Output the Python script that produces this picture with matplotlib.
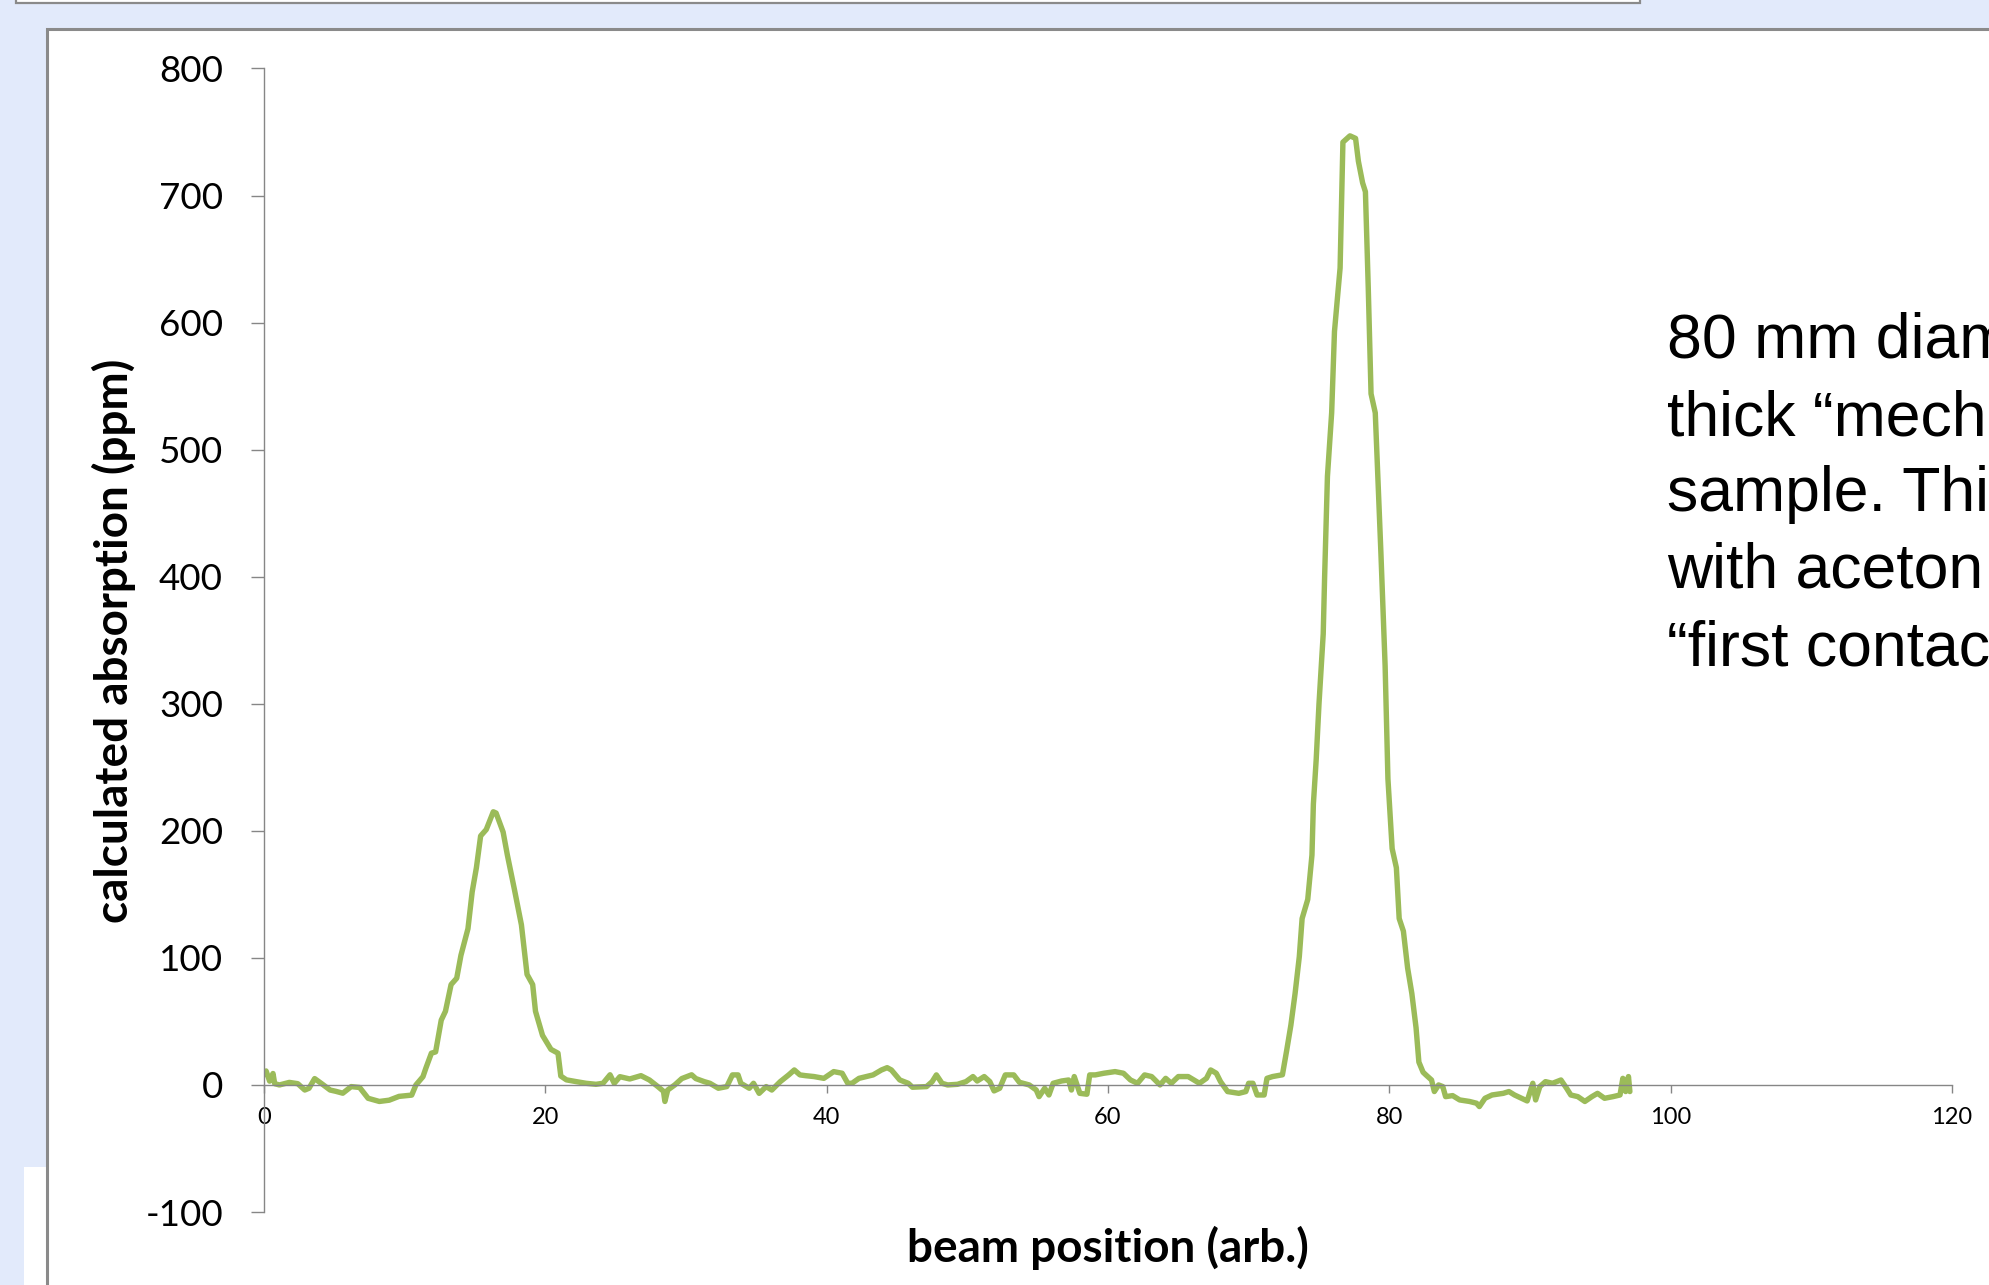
import matplotlib
matplotlib.use("Agg")
import matplotlib.pyplot as plt
from matplotlib.patches import Rectangle

plt.rcParams["axes.unicode_minus"] = False

# Beam scan: position (arb.) and calculated absorption (ppm)
position = [
    0.0, 0.15, 0.4, 0.64, 0.76, 1.1, 1.8, 2.4, 2.9, 3.2, 3.6, 4.1, 4.7, 5.1, 5.6,
    6.2, 6.8, 7.4, 8.2, 8.9, 9.6, 10.5, 10.8, 11.3, 11.5, 11.9, 12.2, 12.6, 12.9,
    13.3, 13.7, 14.0, 14.5, 14.8, 15.1, 15.4, 15.8, 16.3, 16.5, 17.0, 17.3, 17.8,
    18.3, 18.7, 19.1, 19.3, 19.8, 20.4, 20.9, 21.1, 21.5, 22.2, 22.9, 23.6, 24.1,
    24.6, 24.9, 25.3, 26.0, 26.8, 27.4, 28.0, 28.4, 28.5, 28.7, 29.2, 29.7, 30.4,
    30.7, 31.3, 31.7, 32.3, 32.9, 33.3, 33.7, 33.9, 34.5, 34.8, 35.2, 35.7, 36.1,
    36.7, 37.3, 37.7, 38.1, 38.5, 39.1, 39.8, 40.5, 41.1, 41.5, 41.8, 42.3, 43.3,
    43.9, 44.3, 44.6, 45.2, 45.8, 46.1, 47.1, 47.5, 47.8, 48.2, 48.6, 49.3, 49.9,
    50.4, 50.7, 51.2, 51.6, 51.9, 52.3, 52.7, 53.3, 53.7, 54.4, 54.9, 55.1, 55.5,
    55.8, 56.1, 56.7, 57.2, 57.4, 57.6, 58.0, 58.5, 58.7, 59.1, 59.7, 60.5, 61.1,
    61.6, 62.1, 62.6, 63.1, 63.7, 64.1, 64.5, 65.0, 65.7, 66.5, 67.0, 67.3, 67.7,
    68.0, 68.5, 69.3, 69.8, 70.0, 70.3, 70.6, 71.1, 71.3, 71.7, 72.4, 72.7, 73.0,
    73.3, 73.6, 73.8, 74.2, 74.5, 74.6, 74.8, 75.0, 75.3, 75.4, 75.6, 75.9, 76.1,
    76.5, 76.7, 77.2, 77.6, 77.8, 78.1, 78.3, 78.5, 78.7, 79.0, 79.2, 79.4, 79.7,
    79.9, 80.2, 80.5, 80.7, 81.0, 81.3, 81.6, 81.9, 82.1, 82.4, 82.6, 83.0, 83.2,
    83.5, 83.8, 84.0, 84.5, 85.0, 85.7, 86.2, 86.4, 86.8, 87.3, 88.1, 88.5, 88.9,
    89.4, 89.8, 90.2, 90.4, 90.7, 91.1, 91.6, 92.2, 92.6, 92.9, 93.4, 93.9, 94.4,
    94.8, 95.3, 95.9, 96.4, 96.6, 96.8, 97.0, 97.1,
]
absorption = [
    8, 11, 3, 9, 1, 0, 2, 1, -4, -2.6, 5, 1, -4, -5, -6.5,
    -1.3, -2, -10.5, -13, -12, -9, -8, 0, 6.5, 13, 25, 26, 51, 58,
    79, 84, 102, 123, 152, 171, 196, 201, 215, 214, 199, 181, 154,
    126, 87, 79, 58, 39, 28, 25, 7, 4, 2.6, 1.3, 0.5, 1.3,
    8, 1.3, 6.5, 4.7, 7.3, 3.9, -1.3, -5, -13, -4, 0, 5, 8,
    5, 2.6, 1.3, -2.6, -1.3, 7.9, 7.9, 1.3, -2.6, 1.3, -6.6, -1.3, -4,
    2.6, 7.9, 11.8, 7.9, 7.3, 6.6, 5.2, 10.5, 9.2, 1.3, 1.3, 5.2, 7.9,
    11.8, 13.6, 11.8, 3.9, 1.3, -1.8, -1.3, 2.6, 7.9, 1.3, 0, 0.5, 2.6,
    6.6, 3.1, 6.6, 2.6, -4.7, -2.6, 7.9, 7.9, 2.1, 0, -4, -9.2, -2.6,
    -7.9, 1.3, 3.1, 3.9, -4, 6.6, -6.6, -7.3, 7.9, 7.9, 9.2, 10.5, 9.2,
    3.9, 1.3, 7.9, 6.6, 0, 5.2, 1.3, 6.6, 6.6, 1.3, 5.2, 11.8, 9.2,
    2.6, -5.2, -6.6, -5.2, 1.3, 1.3, -7.9, -7.9, 5.2, 6.6, 8, 27, 47,
    72, 101, 131, 146, 181, 221, 256, 300, 355, 400, 479, 529, 593,
    643, 742, 747, 745, 727, 710, 703, 628, 544, 529, 474, 419, 330,
    241, 186, 171, 131, 121, 92, 72, 45, 18, 10, 7.9, 3.9, -5.2,
    0, -1.3, -9.2, -8.4, -11.8, -13, -14.4, -17, -10.5, -7.9, -6.6, -5.2, -7.9,
    -10.5, -12.6, 1.3, -11.8, -1.3, 2.6, 1.3, 3.9, -2.6, -7.9, -9.2, -13, -9.2,
    -6.6, -10.5, -9.2, -7.9, 5.2, -5.2, 6.6, -5.2,
]

y_ticks = [-100, 0, 100, 200, 300, 400, 500, 600, 700, 800]
x_ticks = [0, 20, 40, 60, 80, 100, 120]

note_lines = [
    "80 mm diam",
    "thick \u201cmech",
    "sample. Thi",
    "with aceton",
    "\u201cfirst contac",
]

W, H = 1990, 1285
DPI = 100
BG = "#E2EAFB"
FRAME = "#8A8A8A"
AXIS = "#868686"
GREEN = "#9BBB59"

fig = plt.figure(figsize=(W / DPI, H / DPI), dpi=DPI, facecolor=BG)


def fx(px):
    return px / W


def fy(py):
    return 1 - py / H


# Slide elements: title box at the top, white panel holding the chart
fig.add_artist(Rectangle((fx(16), fy(3)), fx(1640 - 16), fy(-20) - fy(3),
                         transform=fig.transFigure, facecolor="white",
                         edgecolor=FRAME, linewidth=1.6, zorder=0))
fig.add_artist(Rectangle((fx(24), fy(1300)), fx(47 - 24), fy(1167) - fy(1300),
                         transform=fig.transFigure, facecolor="white",
                         edgecolor="none", linewidth=0, zorder=0))
fig.add_artist(Rectangle((fx(47), fy(1300)), fx(2100 - 47), fy(29) - fy(1300),
                         transform=fig.transFigure, facecolor="white",
                         edgecolor=FRAME, linewidth=2.2, zorder=0))

left, right = 264, 1952
top, bottom = 68.5, 1212
ax = fig.add_axes([fx(left), fy(bottom), fx(right - left), fy(top) - fy(bottom)])
ax.set_facecolor("none")

ax.plot(position, absorption, color=GREEN, linewidth=3.9,
        solid_joinstyle="round", solid_capstyle="round")

ax.set_xlim(0, 120)
ax.set_ylim(-100, 800)
ax.set_xticks(x_ticks)
ax.set_yticks(y_ticks)

for side in ("top", "right"):
    ax.spines[side].set_visible(False)
ax.spines["bottom"].set_position(("data", 0))
for side in ("left", "bottom"):
    ax.spines[side].set_color(AXIS)
    ax.spines[side].set_linewidth(1.0)

ax.tick_params(axis="y", direction="out", length=9.5, width=1.0, color=AXIS,
               pad=20, labelsize=26.5)
ax.tick_params(axis="x", direction="out", length=6, width=1.0, color=AXIS,
               pad=10, labelsize=17)
for lab in ax.get_yticklabels() + ax.get_xticklabels():
    lab.set_family("Lato")

fig.text(fx(114), fy(641), "calculated absorption (ppm)", rotation=90,
         ha="center", va="center", fontsize=33, fontweight="bold", family="Lato")
fig.text(fx(1108), fy(1248), "beam position (arb.)", ha="center", va="center",
         fontsize=33, fontweight="bold", family="Lato")

baselines = [358, 435, 511, 588, 665]
for line, base in zip(note_lines, baselines):
    fig.text(fx(1667), fy(base), line, ha="left", va="baseline",
             fontsize=45, family="Liberation Sans", color="black")

fig.savefig("out.png", dpi=DPI, facecolor=BG)
